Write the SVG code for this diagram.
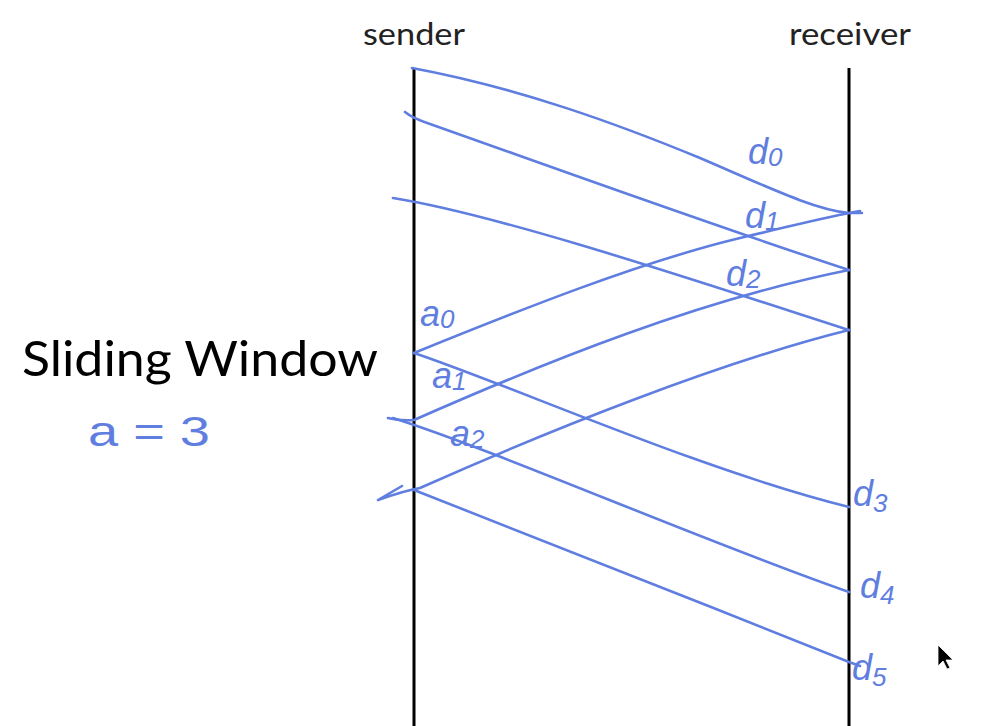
<svg xmlns="http://www.w3.org/2000/svg" width="988" height="726" viewBox="0 0 988 726">
<style>
.life{stroke:#000;stroke-width:3;fill:none}
.msg{stroke:#5f7ee0;stroke-width:2.6;fill:none;stroke-linecap:round;stroke-linejoin:round}
.hand{fill:#5f7ee0;font-family:"Liberation Sans",Arial,sans-serif;font-style:italic;font-size:36px}
.sub{font-size:26px}
.head{fill:#222;font-family:Lato,"Open Sans",sans-serif;font-size:31px}
.title{fill:#000;font-family:Lato,"Open Sans",sans-serif;font-size:49px}
</style>
<rect width="988" height="726" fill="#fff"/>
<g id="sender">
<text class="head" x="363" y="45" textLength="102" lengthAdjust="spacingAndGlyphs">sender</text>
<line class="life" x1="414" y1="68" x2="414" y2="726"/>
</g>
<g id="receiver">
<text class="head" x="789" y="45" textLength="122" lengthAdjust="spacingAndGlyphs">receiver</text>
<line class="life" x1="849" y1="68" x2="849" y2="726"/>
</g>
<g id="title">
<text class="title" x="22" y="376" textLength="356" lengthAdjust="spacingAndGlyphs">Sliding Window</text>
<text class="hand" x="88" y="446" style="font-style:normal;font-size:42px" textLength="122" lengthAdjust="spacingAndGlyphs">a = 3</text>
</g>
<g id="connectors">
<path class="msg" d="M412,68 C520,88 620,125 700,158 C770,188 815,210 849,213 L862,213"/>
<path class="msg" d="M405,112 Q412,118 430,124 C560,170 720,228 849,270"/>
<path class="msg" d="M393,198 C500,215 700,282 849,330"/>
<path class="msg" d="M414,353 C520,310 640,262 740,238 C800,224 830,216 860,211"/>
<path class="msg" d="M388,418 Q400,421 414,420 C550,360 700,300 849,270"/>
<path class="msg" d="M402,486 L378,500 C395,494 408,490 420,488 C550,430 720,362 849,330"/>
<path class="msg" d="M414,353 C510,385 700,470 849,507"/>
<path class="msg" d="M393,418 C500,452 700,540 849,592"/>
<path class="msg" d="M414,490 C520,532 700,602 849,662 L860,666"/>
</g>
<g id="labels">
<text class="hand" x="748" y="164">d<tspan class="sub" dy="2">0</tspan></text>
<text class="hand" x="745" y="228">d<tspan class="sub" dy="2">1</tspan></text>
<text class="hand" x="726" y="286">d<tspan class="sub" dy="2">2</tspan></text>
<text class="hand" x="420" y="326">a<tspan class="sub" dy="2">0</tspan></text>
<text class="hand" x="432" y="388">a<tspan class="sub" dy="2">1</tspan></text>
<text class="hand" x="450" y="446">a<tspan class="sub" dy="2">2</tspan></text>
<text class="hand" x="853" y="506">d<tspan class="sub" dy="6">3</tspan></text>
<text class="hand" x="860" y="598">d<tspan class="sub" dy="6">4</tspan></text>
<text class="hand" x="852" y="680">d<tspan class="sub" dy="6">5</tspan></text>
</g>
<path d="M938,645 L938,666 L943,661 L947,669 L950,668 L946,660 L953,660 Z" fill="#000" stroke="#fff" stroke-width="0.8"/>
</svg>
